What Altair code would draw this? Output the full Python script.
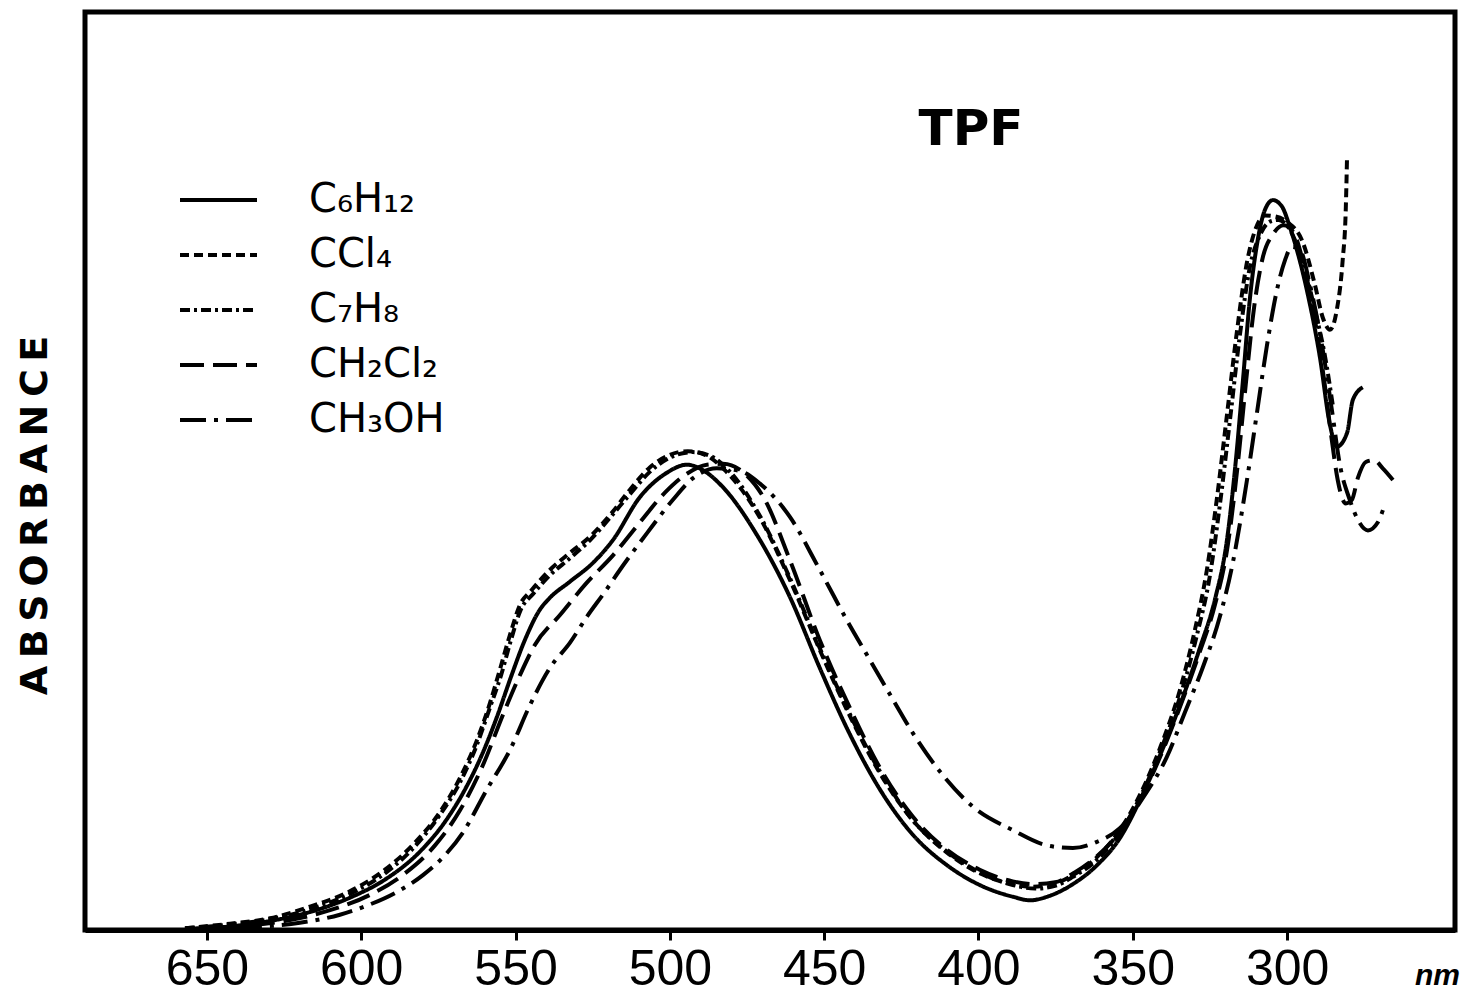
import altair as alt
import pandas as pd

# ---- data (wavelength in nm, relative absorbance) ----
series_names = ["C₆H₁₂", "CCl₄", "C₇H₈", "CH₂Cl₂", "CH₃OH"]

c6h12_wl = [657.1, 642.5, 629.6, 616.6, 603.6, 592.3, 581.0, 572.9, 566.4, 560.6, 556.0, 551.5,
            547.0, 542.1, 538.9, 532.4, 524.9, 518.5, 509.7, 501.0, 494.5, 489.3, 482.8, 471.8,
            461.1, 451.4, 442.6, 431.9, 421.3, 410.2, 399.6, 388.9, 383.3, 376.9, 369.4, 361.6,
            354.2, 347.7, 341.2, 334.7, 328.3, 323.4, 319.5, 316.6, 314.3, 312.1, 309.5, 307.2,
            304.6, 301.7, 299.1, 293.6, 289.4, 286.1, 283.9, 280.6, 278.7, 275.5]
c6h12_ab = [0.001, 0.004, 0.010, 0.020, 0.036, 0.056, 0.087, 0.120, 0.156, 0.197, 0.237, 0.281,
            0.322, 0.356, 0.369, 0.387, 0.408, 0.433, 0.481, 0.508, 0.517, 0.511, 0.492, 0.439,
            0.370, 0.291, 0.224, 0.156, 0.106, 0.072, 0.050, 0.037, 0.033, 0.038, 0.051, 0.072,
            0.102, 0.144, 0.194, 0.250, 0.313, 0.367, 0.433, 0.522, 0.611, 0.700, 0.767, 0.800,
            0.811, 0.804, 0.781, 0.711, 0.637, 0.561, 0.537, 0.552, 0.589, 0.603]

ccl4_wl = [657.1, 642.5, 629.6, 616.6, 603.7, 592.3, 582.6, 574.5, 568.0, 562.5, 558.3, 555.1,
           551.8, 548.6, 544.7, 538.9, 532.4, 525.9, 519.4, 513.0, 506.5, 500.0, 494.2, 488.6,
           482.2, 470.8, 461.1, 451.4, 441.7, 431.9, 421.3, 410.2, 399.6, 388.9, 383.3, 376.9,
           369.4, 361.6, 354.2, 347.7, 341.2, 334.7, 329.9, 326.0, 322.8, 319.5, 316.3, 313.0,
           310.1, 307.2, 304.0, 300.1, 294.9, 291.0, 288.4, 286.1, 283.9, 282.0, 281.0, 280.6]
ccl4_ab = [0.002, 0.007, 0.013, 0.026, 0.043, 0.067, 0.097, 0.131, 0.169, 0.211, 0.252, 0.289,
           0.328, 0.361, 0.378, 0.400, 0.419, 0.437, 0.461, 0.489, 0.514, 0.528, 0.532, 0.528,
           0.511, 0.458, 0.389, 0.311, 0.238, 0.174, 0.122, 0.086, 0.063, 0.051, 0.048, 0.050,
           0.061, 0.081, 0.111, 0.150, 0.202, 0.267, 0.333, 0.400, 0.478, 0.572, 0.664, 0.742,
           0.780, 0.794, 0.793, 0.787, 0.764, 0.717, 0.680, 0.667, 0.689, 0.744, 0.800, 0.856]

c7h8_wl = [657.1, 642.5, 629.6, 616.6, 603.7, 592.3, 582.6, 574.5, 568.0, 562.5, 558.3, 554.7,
           551.5, 548.3, 544.4, 538.9, 532.4, 525.9, 519.4, 513.0, 506.5, 499.3, 492.5, 486.4,
           480.5, 470.8, 461.1, 451.4, 441.7, 431.9, 421.3, 410.2, 399.6, 388.9, 381.7, 375.2,
           369.4, 361.6, 354.2, 347.7, 341.2, 334.7, 329.2, 325.0, 321.8, 318.5, 315.3, 312.1,
           308.8, 305.6, 302.7, 299.1, 294.9, 291.0, 287.8, 285.2]
c7h8_ab = [0.002, 0.006, 0.012, 0.023, 0.040, 0.063, 0.093, 0.128, 0.164, 0.206, 0.247, 0.283,
           0.322, 0.356, 0.373, 0.394, 0.413, 0.433, 0.458, 0.484, 0.509, 0.526, 0.531, 0.526,
           0.509, 0.460, 0.391, 0.313, 0.240, 0.176, 0.122, 0.087, 0.064, 0.050, 0.046, 0.049,
           0.059, 0.078, 0.108, 0.147, 0.198, 0.259, 0.328, 0.394, 0.472, 0.567, 0.661, 0.736,
           0.772, 0.787, 0.789, 0.778, 0.742, 0.689, 0.639, 0.583]

ch2cl2_wl = [657.1, 639.3, 623.1, 610.1, 597.2, 585.8, 576.1, 568.0, 560.6, 554.1, 548.6, 543.7,
             535.6, 526.9, 518.5, 509.7, 501.6, 494.5, 488.0, 482.8, 475.7, 469.2, 461.1, 451.4,
             441.7, 431.9, 421.3, 410.2, 399.6, 388.9, 381.7, 375.2, 368.8, 361.6, 354.2, 347.7,
             341.2, 334.7, 328.3, 323.4, 319.2, 316.0, 313.4, 310.8, 307.9, 304.6, 301.1, 298.1,
             294.2, 291.0, 287.8, 285.5, 283.6, 281.0, 279.0, 277.1, 274.5, 271.9, 269.0, 265.7]
ch2cl2_ab = [0.001, 0.004, 0.011, 0.022, 0.039, 0.063, 0.094, 0.133, 0.183, 0.239, 0.283, 0.317,
             0.350, 0.386, 0.416, 0.453, 0.486, 0.507, 0.517, 0.518, 0.507, 0.478, 0.411, 0.322,
             0.247, 0.180, 0.126, 0.089, 0.067, 0.054, 0.051, 0.053, 0.064, 0.082, 0.109, 0.144,
             0.192, 0.248, 0.309, 0.361, 0.428, 0.517, 0.606, 0.689, 0.747, 0.773, 0.783, 0.776,
             0.733, 0.678, 0.606, 0.544, 0.500, 0.474, 0.478, 0.502, 0.520, 0.522, 0.513, 0.500]

ch3oh_wl = [655.5, 636.1, 619.9, 606.9, 598.2, 589.1, 580.0, 572.9, 567.1, 559.3, 551.8, 545.3,
            538.9, 532.4, 526.9, 521.0, 516.2, 507.4, 499.0, 492.5, 484.8, 477.3, 470.8, 461.1,
            451.4, 442.6, 436.2, 427.7, 421.3, 412.5, 401.8, 388.9, 377.8, 369.4, 361.6, 354.2,
            346.1, 339.0, 333.1, 327.3, 321.8, 317.6, 313.0, 309.8, 306.6, 303.3, 300.7, 298.5,
            295.9, 292.6, 288.7, 285.5, 282.9, 279.7, 277.1, 273.8, 270.6, 268.7]
ch3oh_ab = [0.001, 0.003, 0.008, 0.017, 0.027, 0.041, 0.061, 0.083, 0.108, 0.156, 0.200, 0.250,
            0.291, 0.319, 0.348, 0.376, 0.400, 0.441, 0.478, 0.502, 0.513, 0.510, 0.496, 0.459,
            0.400, 0.344, 0.306, 0.256, 0.219, 0.176, 0.137, 0.111, 0.094, 0.091, 0.098, 0.113,
            0.150, 0.192, 0.242, 0.292, 0.348, 0.408, 0.500, 0.574, 0.648, 0.711, 0.744, 0.759,
            0.756, 0.717, 0.650, 0.578, 0.517, 0.478, 0.456, 0.444, 0.453, 0.469]

tick_values = [650, 600, 550, 500, 450, 400, 350, 300]
dash_styles = [[1, 0], [9, 5], [10, 4, 3, 4], [24, 9], [26, 8, 4, 8]]
plot_title = "TPF"

# ---- build long table ----
rows = []
for name, wl, ab in zip(series_names,
                        [c6h12_wl, ccl4_wl, c7h8_wl, ch2cl2_wl, ch3oh_wl],
                        [c6h12_ab, ccl4_ab, c7h8_ab, ch2cl2_ab, ch3oh_ab]):
    for i, (w, a) in enumerate(zip(wl, ab)):
        rows.append({"solvent": name, "wl": w, "A": a, "i": i})
df = pd.DataFrame(rows)

W, H = 1370, 918
LEFT, TOP = 85, 12

lines = alt.Chart(df).mark_line(
    color="black", strokeWidth=4, interpolate="monotone", strokeCap="butt"
).encode(
    x=alt.X("wl:Q",
            scale=alt.Scale(domain=[245.6, 689.5], reverse=True, nice=False, zero=False),
            axis=alt.Axis(values=tick_values, format="d", grid=False,
                          domain=True, domainColor="black", domainWidth=5,
                          ticks=True, tickSize=10, tickWidth=3, tickColor="black",
                          labelFont="Liberation Sans Narrow, Liberation Sans, sans-serif",
                          labelFontSize=50, labelColor="black", labelPadding=4,
                          labelFlush=False, labelOverlap=False,
                          title="nm", titleX=1352, titleY=45, titleAlign="center",
                          titleBaseline="middle", titleFont="Liberation Sans",
                          titleFontSize=30, titleFontStyle="italic",
                          titleFontWeight="bold", titleColor="black")),
    y=alt.Y("A:Q",
            scale=alt.Scale(domain=[0, 1.02], nice=False, zero=True),
            axis=alt.Axis(labels=False, ticks=False, domain=False, grid=False,
                          title="A\u2009B\u2009S\u2009O\u2009R\u2009B\u2009A\u2009N\u2009C\u2009E",
                          titleAngle=270, titleX=-50, titleY=503,
                          titleAlign="center", titleBaseline="middle",
                          titleFont="DejaVu Sans", titleFontSize=38,
                          titleFontWeight="bold", titleColor="black")),
    strokeDash=alt.StrokeDash("solvent:N",
                              scale=alt.Scale(domain=series_names, range=dash_styles),
                              legend=alt.Legend(title=None, orient="none",
                                                legendX=93, legendY=168,
                                                symbolType="stroke", symbolSize=5929,
                                                symbolStrokeWidth=4,
                                                symbolStrokeColor="black",
                                                clipHeight=40, rowPadding=15,
                                                labelOffset=50, labelFontSize=40,
                                                labelFont="DejaVu Sans",
                                                labelColor="black", labelLimit=500,
                                                padding=0)),
    order="i:Q",
)

title_text = alt.Chart(pd.DataFrame({"t": [plot_title]})).mark_text(
    font="DejaVu Sans", fontSize=50, fontWeight="bold", color="black",
    align="center", baseline="middle"
).encode(text="t:N", x=alt.value(886), y=alt.value(118))

chart = alt.layer(lines, title_text).properties(
    width=W, height=H,
    padding={"left": LEFT, "top": TOP, "right": 11, "bottom": 75},
    autosize=alt.AutoSizeParams(type="none"),
    background="white",
).configure_view(stroke="black", strokeWidth=5)

chart.save("out.html", embed_options={"renderer": "svg", "actions": False})
